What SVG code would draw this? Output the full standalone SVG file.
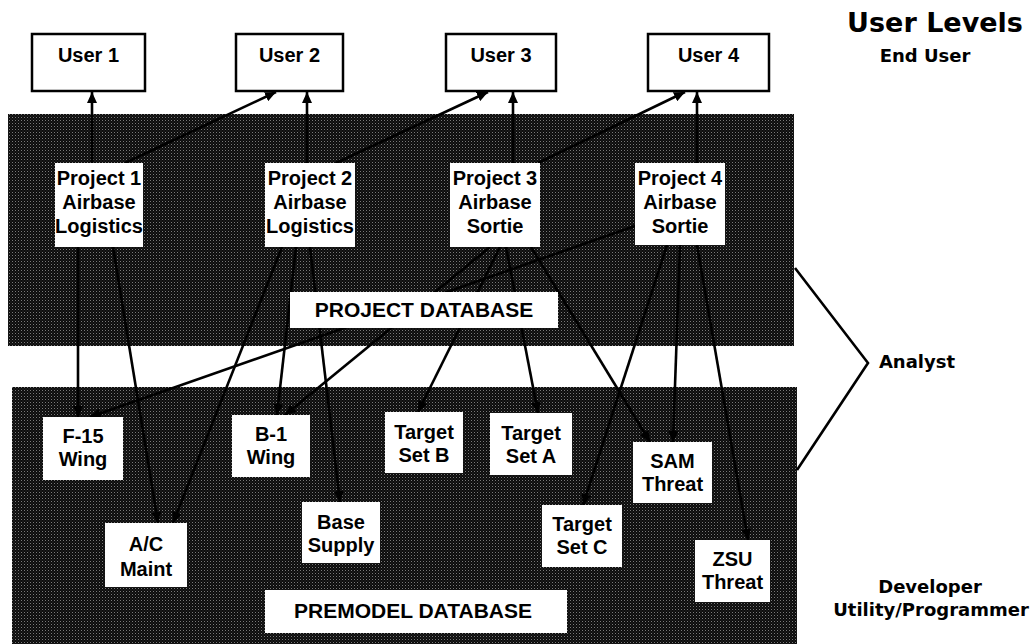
<svg xmlns="http://www.w3.org/2000/svg" width="1032" height="644" viewBox="0 0 1032 644">
  <defs>
    <pattern id="halftone" x="0" y="0" width="3" height="3" patternUnits="userSpaceOnUse">
      <rect width="3" height="3" fill="#0c0c0c"/>
      <rect x="0" y="0" width="1" height="1" fill="#7a7a7a"/>
      <rect x="1.5" y="1.5" width="1" height="1" fill="#3a3a3a"/>
    </pattern>
    <marker id="arrow" markerUnits="userSpaceOnUse" markerWidth="12" markerHeight="10" refX="11" refY="5" orient="auto">
      <path d="M0,0 L11,5 L0,10 z" fill="#000"/>
    </marker>
  </defs>
  <style>
    .db { fill: url(#halftone); }
    .ubox { fill: #fff; stroke: #000; stroke-width: 2.5; }
    .wbox { fill: #fff; }
    .t { font-family: "Liberation Sans", Arial, sans-serif; font-weight: bold; font-size: 20px; fill: #000; text-anchor: middle; }
    .lbl { font-family: "Liberation Sans", Arial, sans-serif; font-weight: bold; font-size: 21px; fill: #000; text-anchor: middle; }
    .side { font-family: "DejaVu Sans", sans-serif; font-weight: bold; font-size: 18px; fill: #000; text-anchor: middle; }
    .conn { stroke: #000; stroke-width: 2.6; fill: none; }
    .arr { marker-end: url(#arrow); }
  </style>

  <rect width="1032" height="644" fill="#fff"/>

  <g id="project-database-area">
    <rect class="db" x="8" y="114" width="786" height="232"/>
  </g>
  <g id="premodel-database-area">
    <rect class="db" x="12" y="387" width="785" height="257"/>
  </g>

  <g id="connectors">
    <!-- projects to users -->
    <line class="conn arr" x1="92" y1="163" x2="92" y2="92"/>
    <line class="conn arr" x1="125" y1="163" x2="276" y2="92"/>
    <line class="conn arr" x1="307" y1="163" x2="307" y2="92"/>
    <line class="conn arr" x1="336" y1="163" x2="488" y2="92"/>
    <line class="conn arr" x1="513" y1="163" x2="513" y2="92"/>
    <line class="conn arr" x1="538" y1="163" x2="685" y2="92"/>
    <line class="conn arr" x1="697" y1="163" x2="697" y2="92"/>
    <!-- projects to premodels -->
    <line class="conn arr" x1="78" y1="247" x2="78" y2="417"/>
    <line class="conn arr" x1="113" y1="247" x2="158" y2="523"/>
    <line class="conn arr" x1="282" y1="247" x2="173" y2="523"/>
    <line class="conn arr" x1="296" y1="247" x2="277" y2="415"/>
    <line class="conn arr" x1="310" y1="247" x2="340" y2="502"/>
    <line class="conn arr" x1="490" y1="247" x2="285" y2="415"/>
    <line class="conn arr" x1="500" y1="247" x2="418" y2="412"/>
    <line class="conn arr" x1="506" y1="247" x2="538" y2="413"/>
    <line class="conn arr" x1="531" y1="247" x2="650" y2="442"/>
    <line class="conn arr" x1="635" y1="226" x2="90" y2="417"/>
    <line class="conn arr" x1="667" y1="245" x2="583" y2="505"/>
    <line class="conn arr" x1="680" y1="245" x2="673" y2="442"/>
    <line class="conn arr" x1="697" y1="245" x2="748" y2="540"/>
    <!-- analyst bracket -->
    <polyline class="conn" points="795,268 868,363 797,470"/>
  </g>

  <g id="user1"><rect class="ubox" x="32" y="34" width="113" height="57"/><text class="t" x="88.5" y="62">User 1</text></g>
  <g id="user2"><rect class="ubox" x="236" y="34" width="107" height="57"/><text class="t" x="289.5" y="62">User 2</text></g>
  <g id="user3"><rect class="ubox" x="446" y="34" width="110" height="57"/><text class="t" x="501" y="62">User 3</text></g>
  <g id="user4"><rect class="ubox" x="648" y="34" width="121" height="57"/><text class="t" x="708.5" y="62">User 4</text></g>

  <g id="project1"><rect class="wbox" x="55" y="163" width="88" height="84"/>
    <text class="t" x="99" y="185">Project 1</text><text class="t" x="99" y="209">Airbase</text><text class="t" x="99" y="233">Logistics</text></g>
  <g id="project2"><rect class="wbox" x="265" y="163" width="90" height="84"/>
    <text class="t" x="310" y="185">Project 2</text><text class="t" x="310" y="209">Airbase</text><text class="t" x="310" y="233">Logistics</text></g>
  <g id="project3"><rect class="wbox" x="450" y="163" width="90" height="84"/>
    <text class="t" x="495" y="185">Project 3</text><text class="t" x="495" y="209">Airbase</text><text class="t" x="495" y="233">Sortie</text></g>
  <g id="project4"><rect class="wbox" x="635" y="163" width="90" height="82"/>
    <text class="t" x="680" y="185">Project 4</text><text class="t" x="680" y="209">Airbase</text><text class="t" x="680" y="233">Sortie</text></g>

  <g id="project-database-label"><rect class="wbox" x="290" y="292" width="268" height="36"/>
    <text class="lbl" x="424" y="317">PROJECT DATABASE</text></g>

  <g id="f15-wing"><rect class="wbox" x="43" y="417" width="80" height="63"/>
    <text class="t" x="83" y="443">F-15</text><text class="t" x="83" y="466">Wing</text></g>
  <g id="b1-wing"><rect class="wbox" x="232" y="415" width="78" height="62"/>
    <text class="t" x="271" y="441">B-1</text><text class="t" x="271" y="464">Wing</text></g>
  <g id="target-set-b"><rect class="wbox" x="385" y="412" width="78" height="61"/>
    <text class="t" x="424" y="439">Target</text><text class="t" x="424" y="462">Set B</text></g>
  <g id="target-set-a"><rect class="wbox" x="490" y="413" width="82" height="62"/>
    <text class="t" x="531" y="440">Target</text><text class="t" x="531" y="463">Set A</text></g>
  <g id="ac-maint"><rect class="wbox" x="105" y="523" width="82" height="64"/>
    <text class="t" x="146" y="551">A/C</text><text class="t" x="146" y="576">Maint</text></g>
  <g id="base-supply"><rect class="wbox" x="302" y="502" width="78" height="61"/>
    <text class="t" x="341" y="529">Base</text><text class="t" x="341" y="552">Supply</text></g>
  <g id="target-set-c"><rect class="wbox" x="542" y="505" width="80" height="62"/>
    <text class="t" x="582" y="531">Target</text><text class="t" x="582" y="554">Set C</text></g>
  <g id="sam-threat"><rect class="wbox" x="633" y="442" width="79" height="61"/>
    <text class="t" x="672.5" y="468">SAM</text><text class="t" x="672.5" y="491">Threat</text></g>
  <g id="zsu-threat"><rect class="wbox" x="695" y="540" width="75" height="62"/>
    <text class="t" x="732.5" y="566">ZSU</text><text class="t" x="732.5" y="589">Threat</text></g>

  <g id="premodel-database-label"><rect class="wbox" x="265" y="590" width="302" height="43"/>
    <text class="lbl" x="413" y="618">PREMODEL DATABASE</text></g>

  <g id="user-levels">
    <text class="side" x="935" y="32" style="font-size:27px">User Levels</text>
    <text class="side" x="925" y="62">End User</text>
    <text class="side" x="917" y="368">Analyst</text>
    <text class="side" x="930" y="593">Developer</text>
    <text class="side" x="931" y="616">Utility/Programmer</text>
  </g>
</svg>
